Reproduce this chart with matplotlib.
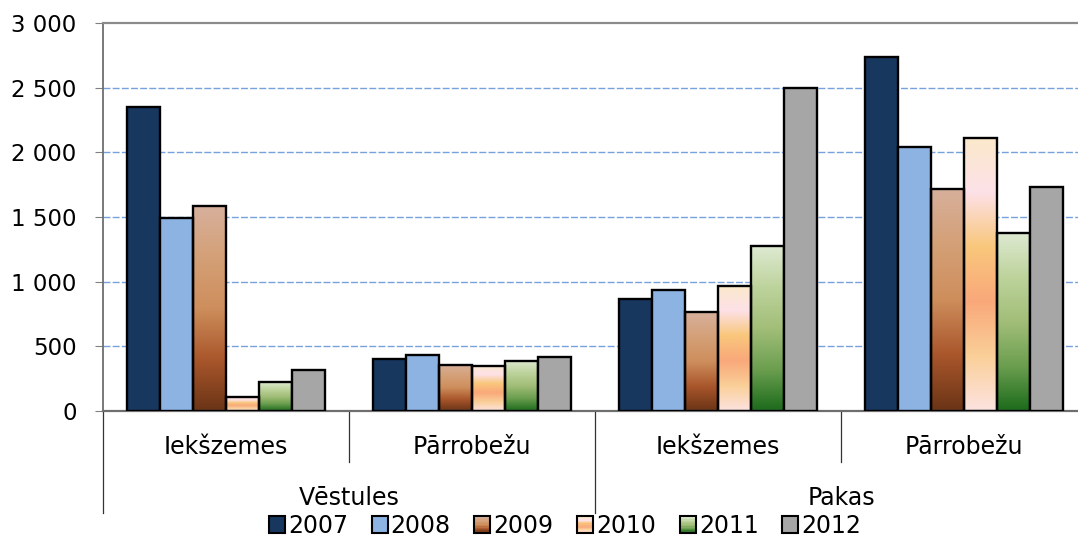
import numpy as np
import matplotlib
matplotlib.use("Agg")
import matplotlib.pyplot as plt
from matplotlib.colors import to_rgb, LinearSegmentedColormap
from matplotlib.patches import Rectangle
from matplotlib.legend_handler import HandlerBase
from matplotlib.ticker import FuncFormatter

# data
groups = ["Vēstules", "Pakas"]
subgroups = ["Iekšzemes", "Pārrobežu", "Iekšzemes", "Pārrobežu"]
years = ["2007", "2008", "2009", "2010", "2011", "2012"]
v2007 = [2350, 402, 866, 2735]
v2008 = [1493, 433, 936, 2042]
v2009 = [1585, 356, 763, 1717]
v2010 = [108, 348, 969, 2114]
v2011 = [224, 387, 1274, 1377]
v2012 = [317, 418, 2496, 1732]
series = [v2007, v2008, v2009, v2010, v2011, v2012]

# fill: either one colour or a list of gradient stops (top -> bottom)
fills = [
    ["#17375E"],
    ["#8DB3E2"],
    ["#D7B09C", "#D4A077", "#CE8E5C", "#A9562B", "#6A3416"],
    ["#FBE9CB", "#FDE1E8", "#F9C77C", "#F9A87A", "#FACF98", "#FDE3E1"],
    ["#DEEAD2", "#BDD39C", "#A2BE78", "#6B9E4F", "#1B6B1B"],
    ["#A6A6A6"],
]

plt.rcParams['font.family'] = ['DejaVu Sans']
fig = plt.figure(figsize=(10.78, 5.39), dpi=100)
ax = fig.add_axes([103 / 1078, 1 - 411 / 539, 975 / 1078, 388 / 539])

n = len(years)
bw = 0.134
x = np.arange(len(subgroups))
offs = (np.arange(n) - (n - 1) / 2) * bw


def grad_cmap(stops):
    return LinearSegmentedColormap.from_list("g", [to_rgb(c) for c in stops][::-1])


for i, vals in enumerate(series):
    xs = x + offs[i]
    f = fills[i]
    if len(f) == 1:
        ax.bar(xs, vals, width=bw, color=f[0], edgecolor="black", linewidth=1.7, zorder=3)
    else:
        cm = grad_cmap(f)
        grad = np.linspace(0, 1, 256).reshape(-1, 1)
        for xx, v in zip(xs, vals):
            ax.imshow(grad, cmap=cm, origin="lower", aspect="auto", interpolation="bilinear",
                      extent=(xx - bw / 2, xx + bw / 2, 0, v), zorder=2)
        ax.bar(xs, vals, width=bw, facecolor="none", edgecolor="black", linewidth=1.7, zorder=3)

ax.set_xlim(-0.5, -0.5 + 975 / 246)
ax.set_ylim(0, 3000)
ax.set_aspect("auto")
ax.set_yticks(np.arange(0, 3001, 500))
ax.yaxis.set_major_formatter(FuncFormatter(lambda v, p: f"{int(v):,}".replace(",", " ")))
ax.tick_params(axis="y", labelsize=16.5, length=6, pad=13, color="#808080")
ax.set_xticks([])
for y in range(500, 3000, 500):
    ax.axhline(y, color="#76A3DE", linewidth=1.0, dashes=(5, 1.6), zorder=1)

for s in ["right"]:
    ax.spines[s].set_visible(False)
ax.spines["top"].set_color("#8C8C8C")
ax.spines["top"].set_linewidth(1.6)
ax.spines["left"].set_color("#6E6E6E")
ax.spines["left"].set_linewidth(1.3)
ax.spines["bottom"].set_color("#6E6E6E")
ax.spines["bottom"].set_linewidth(1.6)

# two-level category axis
tr = ax.get_xaxis_transform()
for b, depth in [(-0.5, -0.263), (0.5, -0.131), (1.5, -0.263), (2.5, -0.131)]:
    ax.plot([b, b], [0, depth], transform=tr, color="#333333", linewidth=0.9, clip_on=False)
for xi, lab in zip(x, subgroups):
    ax.text(xi, -0.093, lab, transform=tr, ha="center", va="center", fontsize=17)
for gi, lab in enumerate(groups):
    ax.text(0.5 + 2 * gi, -0.224, lab, transform=tr, ha="center", va="center", fontsize=17)


class GradHandler(HandlerBase):
    def __init__(self, stops):
        super().__init__()
        self.stops = stops

    def create_artists(self, legend, orig_handle, xdescent, ydescent, width, height, fontsize, trans):
        arts = []
        if len(self.stops) == 1:
            arts.append(Rectangle((-xdescent, -ydescent), width, height, facecolor=self.stops[0],
                                  edgecolor="none", transform=trans))
        else:
            cm = grad_cmap(self.stops)
            k = 12
            for j in range(k):
                arts.append(Rectangle((-xdescent, -ydescent + height * j / k), width, height / k + 0.3,
                                      facecolor=cm(j / (k - 1)), edgecolor="none", transform=trans))
        arts.append(Rectangle((-xdescent, -ydescent), width, height, facecolor="none",
                              edgecolor="black", linewidth=1.5, transform=trans))
        return arts


handles = [Rectangle((0, 0), 1, 1) for _ in years]
hmap = {h: GradHandler(f) for h, f in zip(handles, fills)}
fig.legend(handles, years, handler_map=hmap, loc="center", bbox_to_anchor=(565 / 1078, 1 - 526 / 539),
           ncol=6, frameon=False, fontsize=17, handlelength=0.68, handleheight=0.72,
           handletextpad=0.13, columnspacing=1.0, borderpad=0, borderaxespad=0)

fig.savefig("out.png", dpi=100, facecolor="white")
